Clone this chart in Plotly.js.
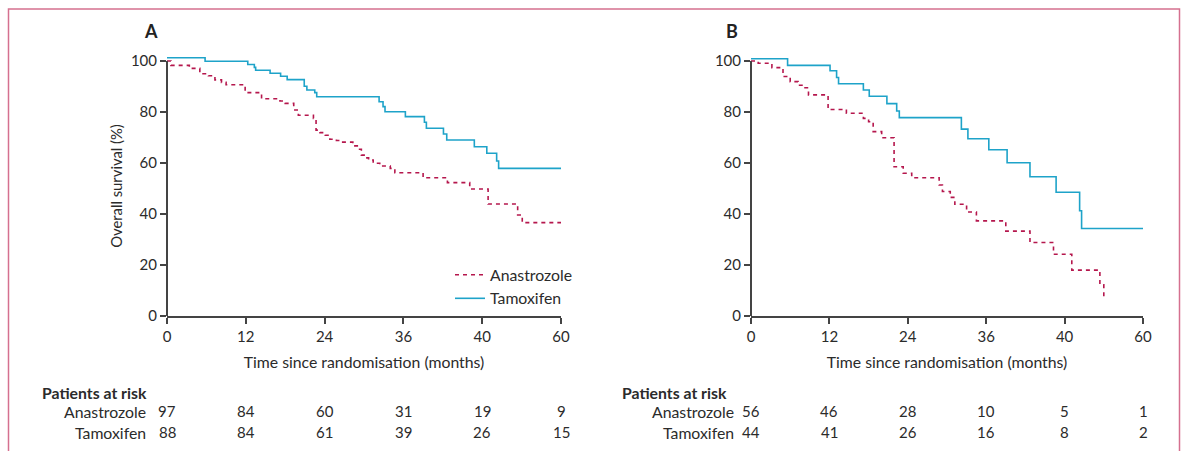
<!DOCTYPE html>
<html>
<head>
<meta charset="utf-8">
<script src="https://cdn.plot.ly/plotly-3.0.1.min.js"></script>
<style>html,body{margin:0;padding:0;background:#fff;}#chart{width:1184px;height:451px;}</style>
</head>
<body>
<div id="chart"></div>
<script>
// ---- Data ----
const xTicks = [0, 12, 24, 36, 48, 60];
const xTickText = ['0', '12', '24', '36', '40', '60'];
const yTicks = [0, 20, 40, 60, 80, 100];

// Panel A
const aTamX = [0, 5.8, 12.3, 13.3, 13.5, 15.7, 17.3, 18.3, 20.9, 21.3, 22.5, 22.8, 32.3, 32.9, 33.2, 36.3, 39.2, 39.5, 42.1, 42.6, 46.8, 48.7, 50.2, 50.5, 60];
const aTamY = [101.3, 99.9, 98.6, 97.5, 96.4, 95.2, 94.0, 92.7, 90.1, 88.6, 87.6, 86.0, 84.0, 82.1, 80.1, 78.2, 76.0, 73.6, 71.4, 69.0, 66.4, 63.8, 60.8, 57.9, 57.9];
const aAnaX = [0, 0.6, 3.4, 5.0, 6.3, 7.3, 8.3, 9.0, 11.9, 14.4, 17.2, 18.0, 19.3, 20.0, 22.3, 22.7, 23.3, 24.1, 24.8, 25.8, 26.3, 28.3, 29.1, 29.6, 30.2, 30.7, 31.4, 32.4, 34.0, 34.7, 39.0, 42.7, 46.1, 48.9, 53.4, 54.1, 60];
const aAnaY = [100, 98.3, 97.1, 95.0, 94.2, 92.6, 91.6, 90.7, 87.6, 85.2, 84.3, 83.4, 80.8, 78.7, 77.5, 72.9, 71.9, 70.9, 69.3, 68.8, 68.2, 66.7, 65.4, 63.1, 62.0, 61.2, 59.9, 58.8, 57.9, 56.2, 54.2, 52.3, 49.8, 43.9, 39.6, 36.6, 36.6];

// Panel B
const bTamX = [0, 5.6, 12.1, 13.1, 13.4, 17.2, 18.1, 20.8, 22.3, 22.7, 32.2, 33.2, 36.4, 39.2, 42.7, 46.7, 50.3, 50.6, 60];
const bTamY = [100.9, 98.3, 96.2, 93.5, 91.1, 88.6, 86.2, 83.3, 80.4, 77.8, 73.3, 69.5, 65.2, 60.1, 54.6, 48.5, 41.3, 34.3, 34.3];
const bAnaX = [0, 1.1, 3.2, 4.9, 6.0, 7.2, 7.8, 8.8, 11.8, 14.6, 17.2, 18.0, 18.7, 20.0, 21.9, 23.3, 24.6, 28.8, 29.3, 30.5, 31.2, 33.0, 34.5, 39.0, 42.7, 46.3, 49.1, 53.4, 54.0];
const bAnaY = [100, 99.1, 97.4, 93.9, 91.9, 90.5, 89.5, 86.7, 81.0, 79.5, 77.5, 76.2, 72.3, 69.9, 58.5, 56.0, 54.2, 51.4, 48.8, 46.5, 43.8, 40.8, 37.3, 33.3, 28.8, 24.2, 18.0, 12.2, 7.2];

// Patients at risk
const riskGroups = ['Anastrozole', 'Tamoxifen'];
const riskA_Ana = [97, 84, 60, 31, 19, 9];
const riskA_Tam = [88, 84, 61, 39, 26, 15];
const riskB_Ana = [56, 46, 28, 10, 5, 1];
const riskB_Tam = [44, 41, 26, 16, 8, 2];

// ---- Styling ----
const W = 1184, H = 451;
const RED = '#b5174d', BLUE = '#1ea3c9', AXIS = '#444', TXT = '#2b2b2b';
const FONT = 'Lato, "Open Sans", sans-serif';
const FS = 15.8, NFS = 15;
const px = v => v / W;
const py = v => (H - v) / H;

const yDom = [py(316), py(316 - 102 * 2.55)];
const axX = (dom, anchor) => ({
  domain: dom, range: [0, 60], anchor: anchor,
  tickvals: xTicks, ticktext: xTickText,
  showline: true, linecolor: AXIS, linewidth: 2,
  ticks: 'outside', ticklen: 6, tickwidth: 2, tickcolor: AXIS,
  showgrid: false, zeroline: false,
  tickfont: {size: NFS, color: TXT, family: FONT},
  title: {text: 'Time since randomisation (months)', standoff: 13, font: {size: FS, color: TXT, family: FONT}}
});
const axY = (anchor) => ({
  domain: yDom, range: [0, 102], anchor: anchor,
  tickvals: yTicks, showline: false,
  ticks: 'outside', ticklen: 6, tickwidth: 2, tickcolor: AXIS,
  showgrid: false, zeroline: false,
  tickfont: {size: NFS, color: TXT, family: FONT}
});

const xa = axX([px(167), px(561)], 'y');
const xb = axX([px(751), px(1143)], 'y2');
const ya = axY('x');
ya.title = {text: 'Overall survival (%)', standoff: 4, font: {size: 14.8, color: TXT, family: FONT}};
const yb = axY('x2');

const traces = [
  {x: aAnaX, y: aAnaY, xaxis: 'x', yaxis: 'y', type: 'scatter', mode: 'lines', name: 'Anastrozole', legendgroup: 'ana',
   line: {shape: 'hv', color: RED, width: 1.6, dash: '4px,4px'}, showlegend: true},
  {x: aTamX, y: aTamY, xaxis: 'x', yaxis: 'y', type: 'scatter', mode: 'lines', name: 'Tamoxifen', legendgroup: 'tam',
   line: {shape: 'hv', color: BLUE, width: 1.6}, showlegend: true},
  {x: bAnaX, y: bAnaY, xaxis: 'x2', yaxis: 'y2', type: 'scatter', mode: 'lines', name: 'Anastrozole', legendgroup: 'ana',
   line: {shape: 'hv', color: RED, width: 1.6, dash: '4px,4px'}, showlegend: false},
  {x: bTamX, y: bTamY, xaxis: 'x2', yaxis: 'y2', type: 'scatter', mode: 'lines', name: 'Tamoxifen', legendgroup: 'tam',
   line: {shape: 'hv', color: BLUE, width: 1.6}, showlegend: false}
];

const annotations = [];
const addRisk = (xref, labelRight, headLeft, rows) => {
  annotations.push({xref: 'paper', yref: 'paper', x: px(headLeft), y: py(392), xanchor: 'left', yanchor: 'middle',
    text: '<b>Patients at risk</b>', showarrow: false, font: {size: FS, color: TXT, family: FONT}});
  rows.forEach((vals, i) => {
    const yy = py(411 + i * 21);
    annotations.push({xref: 'paper', yref: 'paper', x: px(labelRight), y: yy, xanchor: 'right', yanchor: 'middle',
      text: riskGroups[i], showarrow: false, font: {size: FS, color: TXT, family: FONT}});
    vals.forEach((v, j) => {
      annotations.push({xref: xref, yref: 'paper', x: xTicks[j], y: yy, xanchor: 'center', yanchor: 'middle',
        text: String(v), showarrow: false, font: {size: NFS, color: TXT, family: FONT}});
    });
  });
};
addRisk('x', 148, 40, [riskA_Ana, riskA_Tam]);
addRisk('x2', 736, 620, [riskB_Ana, riskB_Tam]);
annotations.push({xref: 'paper', yref: 'paper', x: px(150.5), y: py(31), xanchor: 'center', yanchor: 'middle',
  text: '<b>A</b>', showarrow: false, font: {size: 18, color: '#222', family: FONT}});
annotations.push({xref: 'paper', yref: 'paper', x: px(732), y: py(31), xanchor: 'center', yanchor: 'middle',
  text: '<b>B</b>', showarrow: false, font: {size: 18, color: '#222', family: FONT}});

const shapes = [
  {type: 'line', xref: 'x domain', yref: 'y', x0: 0, x1: 0, y0: 0, y1: 100, line: {color: AXIS, width: 2}},
  {type: 'line', xref: 'x2 domain', yref: 'y2', x0: 0, x1: 0, y0: 0, y1: 100, line: {color: AXIS, width: 2}},
  {type: 'rect', xref: 'paper', yref: 'paper', x0: px(8.5), x1: px(1179.5), y0: -0.2, y1: py(9),
   line: {color: '#d5708f', width: 1.5}, fillcolor: 'rgba(0,0,0,0)', layer: 'below'}
];

const layout = {
  width: W, height: H,
  margin: {l: 0, r: 0, t: 0, b: 0},
  paper_bgcolor: '#fff', plot_bgcolor: 'rgba(0,0,0,0)',
  font: {family: FONT, size: FS, color: TXT},
  xaxis: xa, yaxis: ya, xaxis2: xb, yaxis2: yb,
  showlegend: true,
  legend: {x: px(450), y: py(258), xanchor: 'left', yanchor: 'top', bgcolor: 'rgba(0,0,0,0)',
    font: {size: FS, color: TXT, family: FONT}, tracegroupgap: 2, traceorder: 'normal'},
  annotations: annotations,
  shapes: shapes
};

Plotly.newPlot('chart', traces, layout, {displayModeBar: false, staticPlot: true});
</script>
</body>
</html>
